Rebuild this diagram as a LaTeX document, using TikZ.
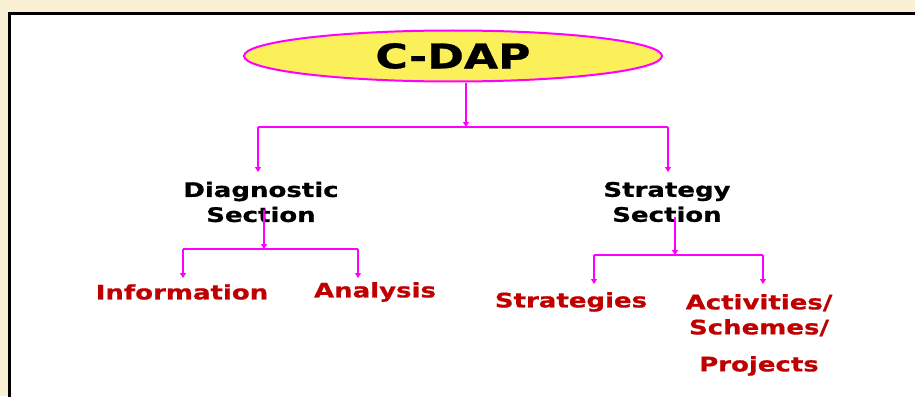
\documentclass[tikz,border=0pt]{standalone}
\usepackage{fontspec}
\setmainfont{DejaVu Sans}[FakeStretch=1.3,BoldFeatures={FakeBold=0.8}]
\usetikzlibrary{shapes.geometric,arrows.meta}
\definecolor{cream}{RGB}{250,240,212}
\definecolor{linkpink}{RGB}{255,0,255}
\definecolor{leafred}{RGB}{192,0,0}
\definecolor{capyellow}{RGB}{251,239,90}
\tikzset{
 link/.style={draw=linkpink,line width=1.8pt},
 tip/.style={link,-{Triangle[width=6pt,length=5pt]}},
 head/.style={font=\fontsize{20}{25}\selectfont\bfseries,align=center,inner sep=0pt},
 leaf/.style={head,text=leafred},
}

\begin{document}
\begin{tikzpicture}[x=1pt,y=-1pt]
\useasboundingbox (0,0) rectangle (915,396);
\fill[cream] (0,0) rectangle (915,396);
\draw[line width=3pt,fill=white] (9,14) rectangle (930,410);

% top
\node[ellipse,draw=linkpink,fill=capyellow,line width=2pt,minimum width=418pt,minimum height=51pt,
 font=\fontsize{34}{40}\selectfont\bfseries] (cdap) at (453,56) {C-DAP};

% sections
\node[head] (diag) at (261,202) {Diagnostic\\Section};
\node[head] (strat) at (667,202) {Strategy\\Section};

% leaves
\node[leaf] (info) at (182,292) {Information};
\node[leaf] (anal) at (375,292) {Analysis};
\node[leaf] (strg) at (571,302) {Strategies};
\node[leaf,anchor=north] (acts) at (759,294) {Activities/\\Schemes/\\[12pt]Projects};

% fork points
\coordinate (stem) at (cdap.south -| 466,0);
\coordinate (top) at (466,127);
\coordinate (ltop) at (258,127);
\coordinate (rtop) at (668,127);
\coordinate (ldrop) at (258,172);
\coordinate (rdrop) at (668,172);
\coordinate (dsec) at (264,210);
\coordinate (dmid) at (264,249);
\coordinate (dl) at (183,249);
\coordinate (dr) at (358,249);
\coordinate (infoa) at (183,278);
\coordinate (anala) at (358,278);
\coordinate (ssec) at (675,217);
\coordinate (smid) at (675,255);
\coordinate (sl) at (594,255);
\coordinate (sr) at (763,255);
\coordinate (strga) at (594,284);
\coordinate (actsa) at (763,284);

\draw[tip] (stem) -- (top);
\draw[link] (ltop) -- (rtop);
\draw[tip] (dsec) -- (dmid);
\draw[link] (dl) -- (dr);
\draw[tip] (ssec) -- (smid);
\draw[link] (sl) -- (sr);
\foreach \a/\b in {ltop/ldrop,rtop/rdrop,dl/infoa,dr/anala,sl/strga,sr/actsa}
 \draw[tip] (\a) -- (\b);
\end{tikzpicture}
\end{document}
